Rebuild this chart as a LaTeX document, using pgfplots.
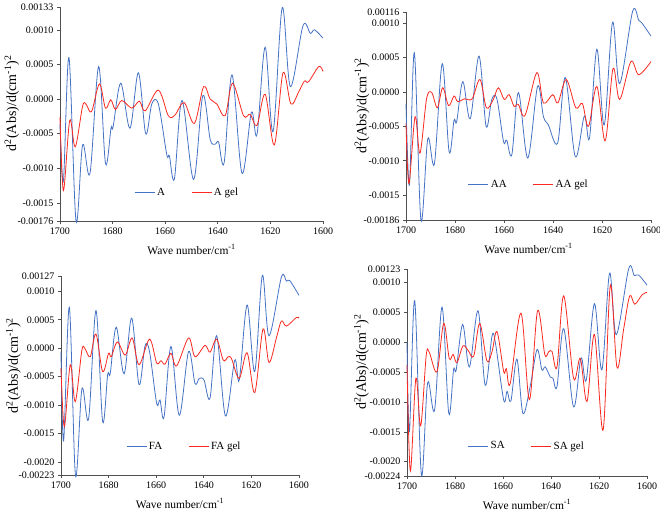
\documentclass[border=0pt]{standalone}
\usepackage{pgfplots}
\pgfplotsset{compat=1.18}
\usepackage{fontspec}
\setmainfont{Liberation Serif}

\definecolor{sblue}{RGB}{68,114,196}
\definecolor{sred}{RGB}{250,40,30}
\definecolor{axgray}{RGB}{80,80,80}

\pgfplotsset{
  spec/.style={
    scale only axis,
    anchor=south west,
    axis lines*=left,
    axis line style={axgray, line width=0.6pt},
    tick style={axgray, line width=0.6pt},
    tick align=outside,
    major tick length=3pt,
    x dir=reverse,
    xmin=1600, xmax=1700,
    xtick={1600,1620,1640,1660,1680,1700},
    /pgf/number format/assume math mode=true,
    /pgf/number format/1000 sep={},
    scaled y ticks=false,
    tick label style={font=\fontsize{10}{10}\selectfont},
    xticklabel style={yshift=-0.5pt},
    xlabel={Wave number/cm\textsuperscript{-1}},
    xlabel style={font=\fontsize{11.5}{11.5}\selectfont, yshift=-3pt},
    ylabel={d\textsuperscript{2}(Abs)/d(cm\textsuperscript{-1})\textsuperscript{2}},
    ylabel style={font=\fontsize{14}{14}\selectfont, rotate=0, anchor=center},
    clip=false,
    legend columns=2,
    legend cell align=left,
    legend style={draw=none, fill=none, anchor=west, font=\fontsize{11}{11}\selectfont,
      /tikz/every even column/.append style={column sep=24pt}},
  },
  bl/.style={sblue, line width=0.8pt, smooth, tension=0.55},
  rd/.style={sred, line width=0.8pt, smooth, tension=0.55},
  bleg/.style={legend image code/.code={\draw[draw=sblue, line width=0.9pt] (0pt,0pt) -- (20pt,0pt);}},
  rleg/.style={legend image code/.code={\draw[draw=sred, line width=0.9pt] (0pt,0pt) -- (20pt,0pt);}},
}

\begin{document}
\begin{tikzpicture}
\useasboundingbox (0pt,0pt) rectangle (660pt,-509pt);

% ---------- A ----------
\begin{axis}[spec, at={(60pt,-221pt)}, width=263pt, height=214pt,
  ymin=-0.00176, ymax=0.00133,
  ytick={-0.00176,-0.0015,-0.001,-0.0005,0,0.0005,0.001,0.00133},
  yticklabels={-0.00176,-0.0015,-0.0010,-0.0005,0.0000,0.0005,0.0010,0.00133},
  ylabel style={at={(axis description cs:-0.183,0.55)}},
  legend style={at={(0.27,0.133)}}]
\addplot[bl, forget plot] coordinates {(1700,-0.00036) (1698.7,-0.00118) (1696.6,0.0006) (1693.9,-0.00176) (1691.4,-0.00066) (1688.6,-0.00107) (1685.3,0.00047) (1682.7,-0.00093) (1680.6,-0.00042) (1679.8,-0.0004) (1676.9,0.00023) (1673.4,-0.00042) (1670.2,0.00038) (1667.4,-0.0005) (1665.1,-0.00007) (1662.6,-0.00007) (1659.4,-0.0008) (1658.4,-0.00082) (1656.5,-0.00115) (1653.6,-0.00002) (1649.2,-0.00116) (1645.7,0.00005) (1642.9,-0.00058) (1641.0,-0.00065) (1639.7,-0.00062) (1637.6,-0.00092) (1634.6,0.00035) (1630.8,-0.00107) (1627.2,-0.00019) (1625.1,-0.00051) (1622.0,0.00075) (1619.0,-0.00047) (1615.5,0.00132) (1612.4,0.00018) (1607.6,0.00106) (1604.8,0.00095) (1603.2,0.001) (1600,0.00088)};
\addplot[rd, forget plot] coordinates {(1700,-0.00026) (1698.7,-0.00132) (1696.3,-0.00031) (1694.2,-0.00069) (1691.4,-0.0001) (1690,-0.00008) (1688,-0.00018) (1685.0,0.00022) (1682.7,-0.00013) (1680.7,-0.00001) (1678.9,-0.00015) (1676.5,-0.00002) (1672.7,-0.00013) (1669.8,-0.00003) (1667.6,-0.00017) (1662.6,0.00013) (1658.8,-0.00024) (1656.3,-0.00023) (1652.8,-0.00005) (1648.9,-0.00035) (1645.4,0.00018) (1642.9,0) (1640.4,-0.00007) (1637.2,-0.00024) (1634.4,0.00023) (1630.2,-0.00024) (1627.7,-0.00022) (1625.1,-0.00038) (1622.0,0.00007) (1618.5,-0.00066) (1615.2,0.00038) (1612.2,-0.00007) (1609.3,0.0001) (1607.1,0.00026) (1605.5,0.00025) (1601.6,0.00047) (1600,0.0004)};
\addlegendimage{bleg}
\addlegendentry{A}
\addlegendimage{rleg}
\addlegendentry{A gel}
\end{axis}

% ---------- AA ----------
\begin{axis}[spec, at={(406pt,-220pt)}, width=245pt, height=208pt,
  ymin=-0.00186, ymax=0.00116,
  ytick={-0.00186,-0.0015,-0.001,-0.0005,0,0.0005,0.001,0.00116},
  yticklabels={-0.00186,-0.0015,-0.0010,-0.0005,0.0000,0.0005,0.0010,0.00116},
  ylabel style={at={(axis description cs:-0.18,0.55)}},
  legend style={at={(0.24,0.17)}}]
\addplot[bl, forget plot] coordinates {(1700,-0.00017) (1698.6,-0.00135) (1696.6,0.00057) (1693.9,-0.00186) (1691.1,-0.00068) (1688.4,-0.00104) (1685.2,0.00041) (1682.4,-0.00087) (1680.4,-0.00041) (1679.3,-0.00043) (1676.8,0.00015) (1673.8,-0.00039) (1670.2,0.00052) (1667.3,-0.0005) (1665,-0.00011) (1662.9,-0.0001) (1660.2,-0.00072) (1658.9,-0.0007) (1656.8,-0.00091) (1654.1,-0.00001) (1650.3,-0.00096) (1646.3,0.00008) (1643.9,-0.00036) (1641.9,-0.00048) (1638.1,-0.00074) (1635.0,0.00021) (1630.9,-0.00094) (1627.2,-0.00035) (1625.1,-0.00067) (1622.1,0.00062) (1619.1,-0.00048) (1615.7,0.00101) (1612.8,0.00012) (1607.5,0.00117) (1605,0.00104) (1603.7,0.001) (1600,0.00081)};
\addplot[rd, forget plot] coordinates {(1700,-0.00046) (1698.8,-0.00133) (1696.3,-0.00036) (1694.3,-0.00089) (1691.6,-0.0001) (1689.5,-0.00001) (1687.2,-0.00023) (1685.0,0.00006) (1682.6,-0.0002) (1680.4,-0.00006) (1678.9,-0.00014) (1676,-0.0001) (1673,-0.0001) (1669.8,0.00018) (1667.2,-0.00023) (1664.5,-0.00012) (1662.3,0.00006) (1659.9,-0.00011) (1657.9,-0.00004) (1655.9,-0.00021) (1654.2,-0.00018) (1651.4,-0.00034) (1646.6,0.00028) (1643.9,-0.00016) (1640.1,-0.00004) (1638,-0.00016) (1634.6,0.00018) (1630.7,-0.00023) (1628,-0.00017) (1625.5,-0.0005) (1622.1,0.00008) (1618.7,-0.00071) (1615.5,0.00034) (1612.8,-0.00011) (1608.2,0.00044) (1605,0.00025) (1600,0.00044)};
\addlegendimage{bleg}
\addlegendentry{AA}
\addlegendimage{rleg}
\addlegendentry{AA gel}
\end{axis}

% ---------- FA ----------
\begin{axis}[spec, at={(61pt,-475pt)}, width=238pt, height=199pt,
  ymin=-0.00223, ymax=0.00127,
  ytick={-0.00223,-0.002,-0.0015,-0.001,-0.0005,0,0.0005,0.001,0.00127},
  yticklabels={-0.00223,-0.0020,-0.0015,-0.0010,-0.0005,0.0000,0.0005,0.0010,0.00127},
  ylabel style={at={(axis description cs:-0.2,0.55)}},
  legend style={at={(0.26,0.143)}}]
\addplot[bl, forget plot] coordinates {(1700,-0.00006) (1698.9,-0.00163) (1696.5,0.00072) (1693.9,-0.00224) (1691.2,-0.00071) (1688.4,-0.00124) (1685.3,0.00066) (1682.5,-0.00129) (1680.4,-0.00047) (1679.3,-0.00044) (1676.8,0.00037) (1673.5,-0.00045) (1670.3,0.00053) (1667.2,-0.00064) (1664.7,0.00004) (1662.8,-0.00006) (1659.8,-0.00097) (1658.4,-0.00091) (1656.7,-0.00121) (1653.8,0.00003) (1650.3,-0.00118) (1646.4,-0.00006) (1643.7,-0.00062) (1641.9,-0.00053) (1639.9,-0.00056) (1637.4,-0.00088) (1634.6,0.00022) (1630.9,-0.00119) (1627,-0.00021) (1625.1,-0.00056) (1621.8,0.00076) (1618.6,-0.00041) (1615.4,0.00128) (1612.6,0.00022) (1607.4,0.00125) (1605.3,0.00118) (1603.9,0.00119) (1600,0.00093)};
\addplot[rd, forget plot] coordinates {(1700,-0.00035) (1698.6,-0.00138) (1696.1,-0.00029) (1694,-0.00094) (1691.2,-0.00003) (1689.8,-0.00002) (1687.7,-0.00015) (1685.3,0.00025) (1682.5,-0.00041) (1680,-0.00009) (1678.9,-0.00015) (1676.3,0.00011) (1673,-0.00012) (1670.1,0.00018) (1667.2,-0.00029) (1662.8,0.00016) (1659.8,-0.00026) (1658,-0.00022) (1656.3,-0.00028) (1653.8,-0.00009) (1651.4,-0.00031) (1646.4,0.00018) (1643.7,-0.00015) (1639.5,0.00005) (1637.4,-0.00007) (1634.6,0.00016) (1631.8,-0.00021) (1629.7,-0.00015) (1628.3,-0.00019) (1625.1,-0.00053) (1621.8,-0.00008) (1618.6,-0.00078) (1615.1,0.00034) (1612.6,-0.00025) (1609.5,0.00018) (1607.4,0.00048) (1605.3,0.00039) (1601.1,0.00054) (1600,0.00053)};
\addlegendimage{bleg}
\addlegendentry{FA}
\addlegendimage{rleg}
\addlegendentry{FA gel}
\end{axis}

% ---------- SA ----------
\begin{axis}[spec, at={(407pt,-476pt)}, width=240pt, height=207pt,
  ymin=-0.00224, ymax=0.00123,
  ytick={-0.00224,-0.002,-0.0015,-0.001,-0.0005,0,0.0005,0.001,0.00123},
  yticklabels={-0.00224,-0.0020,-0.0015,-0.0010,-0.0005,0.0000,0.0005,0.0010,0.00123},
  ylabel style={at={(axis description cs:-0.19,0.55)}},
  legend style={at={(0.24,0.145)}}]
\addplot[bl, forget plot] coordinates {(1700,0) (1699,-0.0015) (1696.8,0.0007) (1694,-0.00222) (1691.4,-0.00068) (1688.5,-0.00113) (1685.4,0.00059) (1682.6,-0.00119) (1680.6,-0.00046) (1679.5,-0.00046) (1676.8,0.0003) (1674,-0.00041) (1670.4,0.00053) (1667.4,-0.00072) (1664.6,0.0001) (1663.2,0) (1659.7,-0.00097) (1658.3,-0.00082) (1656.7,-0.00098) (1654.2,-0.00028) (1651.7,-0.00119) (1648.6,-0.00072) (1645.8,-0.00012) (1643.8,-0.00046) (1642.4,-0.00041) (1640.3,-0.00058) (1639.2,-0.0006) (1637.5,-0.00074) (1634.7,0.00023) (1630.6,-0.00108) (1627.5,-0.00026) (1625.3,-0.00063) (1621.9,0.00065) (1618.8,-0.00046) (1615.6,0.00116) (1612.8,0.00013) (1607.6,0.00124) (1605.3,0.00112) (1603.5,0.00113) (1600,0.00096)};
\addplot[rd, forget plot] coordinates {(1700,-0.00038) (1698.6,-0.00216) (1696.3,-0.0006) (1694.3,-0.0014) (1692,-0.00022) (1690.7,-0.00017) (1687.5,-0.00049) (1684.7,0.00032) (1682.4,-0.00027) (1680.8,-0.0002) (1679.2,-0.00034) (1676.7,-0.00006) (1674.6,-0.00013) (1672.2,-0.00023) (1669.7,0.00032) (1666.7,-0.00031) (1664.6,-0.00016) (1662.5,0.00018) (1659.7,-0.00049) (1658.6,-0.00044) (1657,-0.00069) (1652.5,0.00049) (1649,-0.00096) (1645.6,0.00053) (1642.6,-0.0002) (1641,-0.00016) (1639.6,-0.00015) (1637.5,-0.00041) (1634.7,0.00078) (1630.6,-0.0006) (1627.8,-0.00027) (1625,-0.00099) (1621.9,0.00013) (1618.3,-0.00147) (1615.3,0.00095) (1612.5,-0.00042) (1609.7,0.00023) (1607.2,0.00078) (1605.1,0.00064) (1602,0.0008) (1600,0.00084)};
\addlegendimage{bleg}
\addlegendentry{SA}
\addlegendimage{rleg}
\addlegendentry{SA gel}
\end{axis}
\end{tikzpicture}
\end{document}
